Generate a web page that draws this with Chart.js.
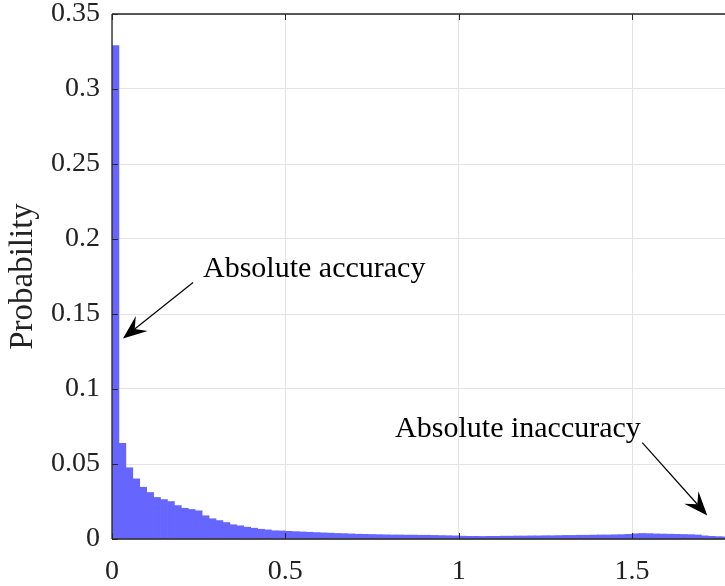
<!DOCTYPE html>
<html>
<head>
<meta charset="utf-8">
<script src="https://cdn.jsdelivr.net/npm/chart.js@4.4.1/dist/chart.umd.min.js"></script>
<style>
  html, body { margin: 0; padding: 0; background: #fff; overflow: hidden; }
  #wrap { width: 725px; height: 586px; overflow: hidden; }
</style>
</head>
<body>
<div id="wrap"><canvas id="hist" width="750" height="586"></canvas></div>
<script>
// 히스토그램 데이터 (bin 폭 0.02, 0 ~ 1.8)
const binWidth = 0.02;
const probs = [
  0.329, 0.0637, 0.0475, 0.0401, 0.0345, 0.031, 0.0277, 0.0263, 0.025, 0.0223,
  0.0205, 0.0197, 0.0188, 0.0155, 0.0135, 0.0123, 0.011, 0.0095, 0.0088, 0.0079,
  0.0072, 0.0065, 0.0061, 0.0055,
  0.0054, 0.0051, 0.0049, 0.0047, 0.0045, 0.0043,
  0.0041, 0.0039, 0.0037, 0.0036, 0.0034,
  0.0032, 0.0031, 0.003, 0.0029, 0.0028,
  0.0027, 0.0027, 0.0026, 0.0026, 0.0025,
  0.0025, 0.0024, 0.0023, 0.0022, 0.0021,
  0.0019, 0.0018, 0.0018, 0.0017, 0.0018,
  0.0018, 0.0019, 0.0019, 0.002, 0.002,
  0.0021, 0.0021, 0.0022, 0.0022, 0.0023,
  0.0024, 0.0024, 0.0025, 0.0025, 0.0026,
  0.0027, 0.0027, 0.0028, 0.0029, 0.0031,
  0.0035, 0.0037, 0.0036, 0.0034, 0.0033,
  0.0032, 0.0031, 0.003, 0.0029, 0.0027,
  0.0021, 0.0018, 0.0016, 0.0014, 0.0012,
];
const binCenters = probs.map((_, i) => +(binWidth * (i + 0.5)).toFixed(3));

const xTicks = [0, 0.5, 1, 1.5];
const yTicks = [0, 0.05, 0.1, 0.15, 0.2, 0.25, 0.3, 0.35];

// 주석: [텍스트, 텍스트x, 텍스트y, 화살표 시작x, 시작y, 끝x, 끝y] (데이터 좌표)
const notes = [
  ['Absolute accuracy', 0.2626, 0.175, 0.2338, 0.171, 0.0317, 0.1337],
  ['Absolute inaccuracy', 0.8167, 0.0677, 1.5296, 0.0643, 1.7172, 0.0157],
];

const FONT = "'Liberation Serif', 'Times New Roman', serif";
const INK = '#222';
const AXIS = '#262626';

function drawArrow(ctx, x1, y1, x2, y2) {
  const ang = Math.atan2(y2 - y1, x2 - x1);
  const L = 24, W = 9.5, back = 15;
  const cx = Math.cos(ang), sy = Math.sin(ang);
  ctx.beginPath();
  ctx.moveTo(x1, y1);
  ctx.lineTo(x2 - cx * back, y2 - sy * back);
  ctx.lineWidth = 1.2;
  ctx.strokeStyle = '#000';
  ctx.stroke();
  const bx = x2 - cx * L, by = y2 - sy * L;
  const nx = -sy, ny = cx;
  ctx.beginPath();
  ctx.moveTo(x2, y2);
  ctx.lineTo(bx + nx * W, by + ny * W);
  ctx.lineTo(x2 - cx * back, y2 - sy * back);
  ctx.lineTo(bx - nx * W, by - ny * W);
  ctx.closePath();
  ctx.fillStyle = '#000';
  ctx.fill();
}

// 박스 테두리 + 안쪽 눈금 + 주석
const boxPlugin = {
  id: 'box',
  afterDraw(chart) {
    const { ctx, chartArea: a, scales } = chart;
    const xs = scales.x, ys = scales.y;
    ctx.save();
    ctx.strokeStyle = AXIS;
    ctx.lineWidth = 1.3;
    ctx.beginPath();
    ctx.moveTo(a.left, a.bottom); ctx.lineTo(a.right, a.bottom);
    ctx.moveTo(a.left, a.top); ctx.lineTo(a.right, a.top);
    ctx.moveTo(a.left, a.top); ctx.lineTo(a.left, a.bottom);
    ctx.stroke();
    ctx.lineWidth = 1;
    ctx.beginPath();
    xTicks.forEach(v => {
      const px = Math.round(xs.getPixelForValue(v)) + 0.5;
      ctx.moveTo(px, a.bottom); ctx.lineTo(px, a.bottom - 6);
      ctx.moveTo(px, a.top); ctx.lineTo(px, a.top + 6);
    });
    yTicks.forEach(v => {
      const py = Math.round(ys.getPixelForValue(v)) + 0.5;
      ctx.moveTo(a.left, py); ctx.lineTo(a.left + 6, py);
    });
    ctx.stroke();

    ctx.font = `30px ${FONT}`;
    ctx.fillStyle = '#000';
    ctx.textBaseline = 'alphabetic';
    ctx.textAlign = 'left';
    notes.forEach(([t, tx, ty, sx, sy, ex, ey]) => {
      ctx.fillText(t, xs.getPixelForValue(tx), ys.getPixelForValue(ty));
      drawArrow(ctx,
        xs.getPixelForValue(sx), ys.getPixelForValue(sy),
        xs.getPixelForValue(ex), ys.getPixelForValue(ey));
    });
    ctx.restore();
  },
};

new Chart(document.getElementById('hist'), {
  type: 'bar',
  data: {
    datasets: [{
      data: binCenters.map((x, i) => ({ x, y: probs[i] })),
      backgroundColor: 'rgb(102,102,255)',
      borderWidth: 0,
      barPercentage: 1,
      categoryPercentage: 1,
      grouped: false,
    }],
  },
  options: {
    responsive: false,
    animation: false,
    devicePixelRatio: 1,
    layout: { padding: { top: 14, right: 14, left: 0, bottom: 0 } },
    plugins: { legend: { display: false }, tooltip: { enabled: false } },
    scales: {
      x: {
        type: 'linear',
        offset: false,
        min: 0,
        max: 1.8,
        afterBuildTicks: s => { s.ticks = xTicks.map(v => ({ value: v })); },
        afterFit: s => {
          s.height = 586 - 539;
          s.paddingLeft = 0; s.paddingRight = 0;
        },
        ticks: {
          color: INK,
          font: { family: FONT, size: 28 },
          padding: 16,
          maxRotation: 0,
          callback: v => String(v),
        },
        grid: { color: '#e3e3e3', drawTicks: false, lineWidth: 1, offset: false },
        border: { display: false },
      },
      y: {
        min: 0,
        max: 0.35,
        afterBuildTicks: s => { s.ticks = yTicks.map(v => ({ value: v })); },
        afterFit: s => {
          s.width = 112;
          s.paddingTop = 0; s.paddingBottom = 0;
        },
        ticks: {
          color: INK,
          font: { family: FONT, size: 28 },
          padding: 12,
          callback: v => String(+v.toFixed(2)),
        },
        grid: { color: '#e3e3e3', drawTicks: false, lineWidth: 1 },
        border: { display: false },
        title: {
          display: true,
          text: 'Probability',
          color: INK,
          font: { family: FONT, size: 33 },
          padding: { top: 4, bottom: 0 },
        },
      },
    },
  },
  plugins: [boxPlugin],
});
</script>
</body>
</html>
